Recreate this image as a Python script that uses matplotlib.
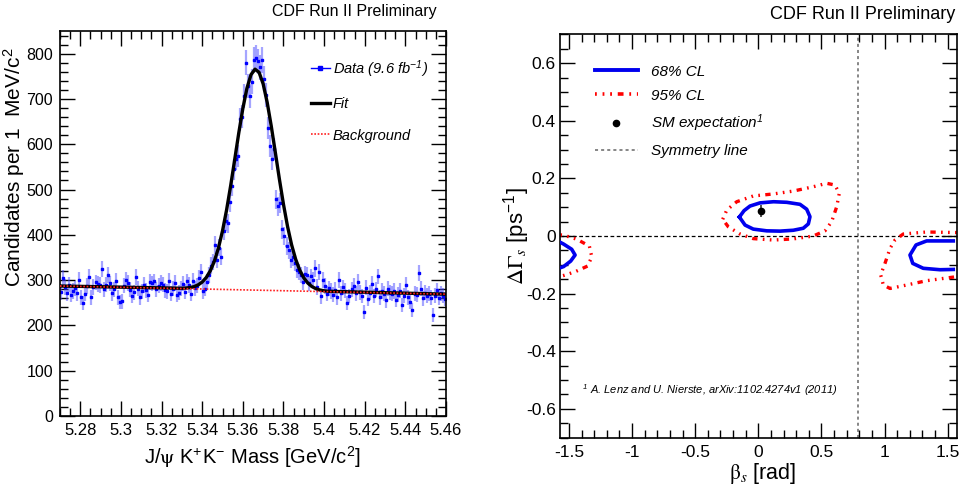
import numpy as np
import matplotlib
matplotlib.use("Agg")
import matplotlib.pyplot as plt
from matplotlib.lines import Line2D
from matplotlib.ticker import MultipleLocator, FuncFormatter

plt.rcParams["font.family"] = ["Liberation Sans", "DejaVu Sans"]
plt.rcParams["mathtext.fontset"] = "stix"

# --------------------------------------------------------
# Left panel data : J/psi K+K- mass histogram (1 MeV bins)
# --------------------------------------------------------

mass_lo = 5.270
bin_width = 0.001

counts = [
    273, 304, 285, 271, 290, 268, 276, 282, 271, 301,
    262, 249, 270, 287, 306, 262, 285, 295, 291, 289,
    325, 280, 290, 312, 293, 271, 280, 299, 262, 251,
    253, 288, 301, 294, 279, 265, 273, 306, 281, 262,
    275, 289, 278, 268, 296, 293, 297, 280, 288, 294,
    290, 278, 275, 299, 270, 281, 294, 267, 272, 282,
    292, 274, 297, 289, 270, 299, 282, 288, 304,
    318, 276, 281, 296, 311, 332, 340, 378, 345, 372,
    352, 408, 430, 425, 472, 508, 545, 568, 574, 655,
    661, 706, 780, 728, 706, 738, 786, 790, 783, 770,
    786, 745, 708, 636, 596, 568, 590, 478, 463, 470,
    412, 398, 375, 366, 345, 350, 338, 322, 318, 311,
    296, 313,
    312, 293, 308, 301, 326, 285, 318, 264, 300, 287,
    270, 282, 276, 268, 279, 262, 300, 271, 284, 277,
    249, 265, 280, 288, 271, 296, 273, 265, 229, 283,
    258, 272, 291, 265, 280, 308, 262, 276, 270, 255,
    281, 272, 270, 276, 256, 268, 277, 245, 266, 289,
    262, 252, 234, 270, 268, 315, 281, 260, 272, 266,
    270, 261, 223, 266, 278, 261, 271, 266, 258,
]

fit_mass = [
    5.270, 5.330, 5.332, 5.334, 5.336, 5.338, 5.340, 5.342, 5.344, 5.346,
    5.348, 5.350, 5.352, 5.354, 5.356, 5.358, 5.360, 5.362, 5.364, 5.366,
    5.368, 5.370, 5.372, 5.374, 5.376, 5.378, 5.380, 5.382, 5.384, 5.386,
    5.388, 5.390, 5.392, 5.394, 5.396, 5.398, 5.400, 5.402, 5.460,
]
fit_curve = [
    287.0, 282.0, 282.5, 283.5, 285.6, 289.5, 295.7, 305.7, 320.6, 342.0,
    371.1, 408.7, 454.8, 508.1, 566.0, 624.7, 678.7, 723.2, 753.4, 765.7,
    758.7, 733.3, 692.1, 639.9, 581.9, 522.9, 467.5, 418.7, 378.1, 346.1,
    322.2, 305.0, 293.4, 285.8, 281.0, 278.1, 276.4, 275.3, 269.0,
]

bkg_mass = [5.270, 5.460]
bkg_curve = [287.0, 269.0]

# --------------------------------------------------------
# Right panel data : beta_s - DeltaGamma_s contours
# --------------------------------------------------------

cl68_mid_beta = [-0.150, -0.113, -0.066, 0.013, 0.121, 0.225, 0.330, 0.383, 0.409,
                 0.396, 0.356, 0.277, 0.172, 0.066, -0.040, -0.105, -0.150]
cl68_mid_dg = [0.066, 0.088, 0.104, 0.115, 0.119, 0.117, 0.110, 0.093, 0.067,
               0.042, 0.027, 0.020, 0.017, 0.018, 0.024, 0.038, 0.066]

cl95_mid_beta = [-0.282, -0.250, -0.171, -0.040, 0.119, 0.277, 0.435, 0.541, 0.607,
                 0.641, 0.621, 0.581, 0.528, 0.435, 0.277, 0.119, -0.040, -0.145,
                 -0.238, -0.282]
cl95_mid_dg = [0.058, 0.090, 0.119, 0.139, 0.146, 0.156, 0.171, 0.183, 0.177,
               0.148, 0.102, 0.050, 0.018, 0.000, -0.010, -0.014, -0.009, 0.007,
               0.032, 0.058]

cl68_left_beta = [-1.568, -1.542, -1.478, -1.451, -1.486, -1.542, -1.568]
cl68_left_dg = [-0.022, -0.028, -0.046, -0.066, -0.087, -0.106, -0.110]

cl95_left_beta = [-1.568, -1.542, -1.438, -1.338, -1.319, -1.351, -1.451, -1.542, -1.568]
cl95_left_dg = [0.004, 0.003, -0.011, -0.035, -0.072, -0.104, -0.124, -0.137, -0.140]

cl68_right_beta = [1.544, 1.333, 1.249, 1.201, 1.223, 1.306, 1.439, 1.544]
cl68_right_dg = [-0.017, -0.017, -0.031, -0.066, -0.095, -0.112, -0.117, -0.116]

cl95_right_beta = [1.571, 1.333, 1.148, 1.082, 1.043, 1.003, 0.969, 0.990, 1.043,
                   1.175, 1.333, 1.571]
cl95_right_dg = [0.012, 0.014, 0.007, -0.014, -0.043, -0.095, -0.135, -0.170, -0.182,
                 -0.170, -0.155, -0.141]

sm_beta = 0.019
sm_dgamma = 0.087
sm_err = 0.021

sym_beta = np.pi / 4
sym_dgamma = 0.0

# --------------------------------------------------------
# Figure
# --------------------------------------------------------

fig = plt.figure(figsize=(9.61, 4.96), dpi=100)

ax1 = fig.add_axes([0.0624, 0.1613, 0.4017, 0.7762])
ax2 = fig.add_axes([0.5827, 0.1175, 0.4128, 0.8133])

fmt = FuncFormatter(lambda v, p: "%g" % round(v, 4))

# --------------------------------------------------------
# Left panel
# --------------------------------------------------------

counts = np.array(counts, dtype=float)
centers = mass_lo + (np.arange(len(counts)) + 0.5) * bin_width

ax1.errorbar(centers, counts, yerr=np.sqrt(counts), xerr=bin_width / 2,
             fmt="s", ms=1.8, color="#0000ff", ecolor=(0.3, 0.3, 1.0, 0.5),
             elinewidth=1.6, capsize=0, zorder=2)
ax1.plot(fit_mass, fit_curve, color="black", lw=2.4, zorder=3)
ax1.plot(bkg_mass, bkg_curve, color="#ff2020", lw=1.2, ls=(0, (1, 1)), zorder=4)

ax1.set_xlim(5.27, 5.46)
ax1.set_ylim(0, 850)
ax1.xaxis.set_major_locator(MultipleLocator(0.02))
ax1.xaxis.set_minor_locator(MultipleLocator(0.005))
ax1.yaxis.set_major_locator(MultipleLocator(100))
ax1.yaxis.set_minor_locator(MultipleLocator(20))
ax1.xaxis.set_major_formatter(fmt)
ax1.yaxis.set_major_formatter(fmt)

ax1.tick_params(which="both", direction="in", top=True, right=True, width=1)
ax1.tick_params(which="major", length=11)
ax1.tick_params(which="minor", length=6)
ax1.tick_params(axis="x", pad=5, labelsize=12)
ax1.tick_params(axis="y", pad=5, labelsize=11.5)
for s in ax1.spines.values():
    s.set_linewidth(1.2)

ax1.set_xlabel(r"J/$\mathrm{\psi}$ K$^{\mathregular{+}}$K$^{\mathregular{-}}$ Mass [GeV/c$^{\mathregular{2}}$]",
               fontsize=14.5)
ax1.xaxis.set_label_coords(0.5, -0.075)
ax1.set_ylabel(r"Candidates per 1  MeV/c$^{\mathregular{2}}$", fontsize=15, loc="top")
ax1.yaxis.set_label_coords(-0.086, 0.958)

h_data = Line2D([], [], color="#0000ff", marker="s", ms=2.5, lw=1)
h_fit = Line2D([], [], color="black", lw=2.4)
h_bkg = Line2D([], [], color="#ff2020", lw=1.2, ls=(0, (1, 1)))
ax1.legend([h_data, h_fit, h_bkg],
           [r"Data (9.6 fb$^{\mathregular{-1}}$)", "Fit", "Background"],
           loc="upper left", bbox_to_anchor=(0.65, 0.93), frameon=False,
           borderpad=0, borderaxespad=0, handlelength=1.3, handletextpad=0.2,
           labelspacing=1.2, prop={"style": "italic", "size": 10.5})

fig.text(0.369, 0.976, "CDF Run II Preliminary", ha="center", va="center",
         fontsize=11.5)

# --------------------------------------------------------
# Right panel
# --------------------------------------------------------

blue = "#0000ee"
red = "#ff0000"
red_ls = (0, (0.5, 1.6, 0.5, 1.6, 0.5, 1.6, 1.6, 1.6))

ax2.axhline(sym_dgamma, color="black", lw=0.9, ls=(0, (3, 2)), zorder=1)
ax2.axvline(sym_beta, color="#666666", lw=1.1, ls=(0, (2, 2)), zorder=1)

for bx, by in [(cl95_mid_beta, cl95_mid_dg), (cl95_left_beta, cl95_left_dg),
               (cl95_right_beta, cl95_right_dg)]:
    ax2.plot(bx, by, color=red, lw=2.4, ls=red_ls, zorder=2)
for bx, by in [(cl68_mid_beta, cl68_mid_dg), (cl68_left_beta, cl68_left_dg),
               (cl68_right_beta, cl68_right_dg)]:
    ax2.plot(bx, by, color=blue, lw=2.6, solid_joinstyle="round", zorder=3)

ax2.errorbar([sm_beta], [sm_dgamma], yerr=[sm_err], fmt="o", ms=4.5,
             color="black", ecolor="#333333", elinewidth=1.2, capsize=0, zorder=4)

ax2.set_xlim(-np.pi / 2, np.pi / 2)
ax2.set_ylim(-0.7, 0.7)
ax2.xaxis.set_major_locator(MultipleLocator(0.5))
ax2.xaxis.set_minor_locator(MultipleLocator(0.1))
ax2.yaxis.set_major_locator(MultipleLocator(0.2))
ax2.yaxis.set_minor_locator(MultipleLocator(0.05))
ax2.xaxis.set_major_formatter(fmt)
ax2.yaxis.set_major_formatter(fmt)

ax2.tick_params(which="both", direction="in", top=True, right=True, width=1)
ax2.tick_params(which="major", length=11)
ax2.tick_params(which="minor", length=6)
ax2.tick_params(axis="x", pad=5, labelsize=12.5)
ax2.tick_params(axis="y", pad=3, labelsize=12.5)
for s in ax2.spines.values():
    s.set_linewidth(1.2)

ax2.set_xlabel(r"$\mathrm{\beta}_{s}$ [rad]", fontsize=15.5)
ax2.xaxis.set_label_coords(0.51, -0.058)
ax2.set_ylabel(r"$\Delta\Gamma_{s}$ [ps$^{\mathregular{-1}}$]", fontsize=16)
ax2.yaxis.set_label_coords(-0.07, 0.5)

h68 = Line2D([], [], color=blue, lw=2.8)
h95 = Line2D([], [], color=red, lw=2.6, ls=red_ls)
hsm = Line2D([], [], color="black", marker="o", ms=4.5, lw=0)
hsym = Line2D([], [], color="#666666", lw=1.1, ls=(0, (2, 2)))
ax2.legend([h68, h95, hsm, hsym],
           ["68% CL", "95% CL", r"SM expectation$^{\mathregular{1}}$", "Symmetry line"],
           loc="upper left", bbox_to_anchor=(0.088, 0.925), frameon=False,
           borderpad=0, borderaxespad=0, handlelength=2.8, handletextpad=0.9,
           labelspacing=0.65, prop={"style": "italic", "size": 11})

ax2.text(0.055, 0.118, r"$^{\mathregular{1}}$ A. Lenz and U. Nierste, arXiv:1102.4274v1 (2011)",
         transform=ax2.transAxes, fontsize=8, style="italic", va="center")

fig.text(0.994, 0.970, "CDF Run II Preliminary", ha="right", va="center",
         fontsize=13)

fig.savefig("out.png", dpi=100)
